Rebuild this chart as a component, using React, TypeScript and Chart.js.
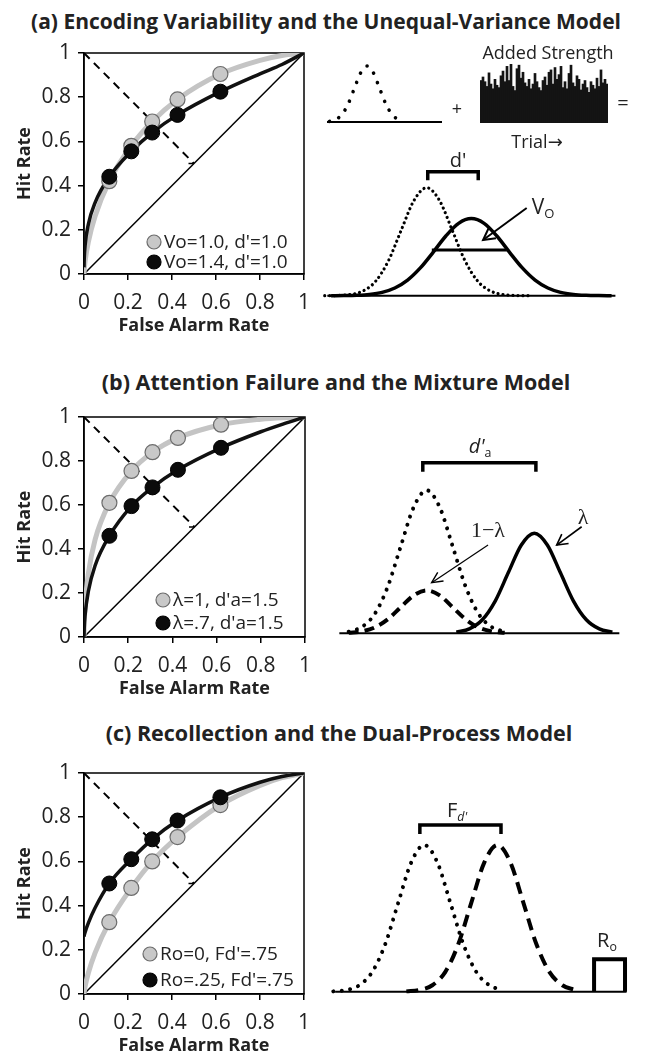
import React, { useEffect, useRef } from "react";
import { Chart, registerables } from "chart.js";

Chart.register(...registerables);

const SANS = "'Open Sans', 'DejaVu Sans', sans-serif";
const SERIF = "'Liberation Serif', 'DejaVu Serif', serif";

// ---------------- ROC panels (left column) ----------------
const rocTickStep = 0.2;
const rocCurveFA = [0, 0.001, 0.005, 0.02, 0.05, 0.115, 0.215, 0.31, 0.425, 0.62, 0.8, 0.9, 1];
const rocPointFA = [0.115, 0.215, 0.31, 0.425, 0.62];
const chanceLine = [0, 1];
const minorDiagFA = [0, 0.5];
const minorDiagHit = [1, 0.5];
const minorEndFA = [0.475, 0.5];
const minorEndHit = [0.5, 0.5];

// (a) unequal variance
const aGreyCurve = [0, 0.018, 0.058, 0.146, 0.26, 0.42, 0.58, 0.69, 0.79, 0.905, 0.967, 0.989, 1];
const aBlackCurve = [0.03, 0.068, 0.13, 0.226, 0.322, 0.44, 0.555, 0.64, 0.72, 0.825, 0.906, 0.948, 1];
const aGreyPts = [0.42, 0.58, 0.69, 0.79, 0.905];
const aBlackPts = [0.44, 0.555, 0.64, 0.72, 0.825];
const aLabels = ["Vo=1.0, d'=1.0", "Vo=1.4, d'=1.0"];

// (b) mixture
const bGreyCurve = [0, 0.056, 0.141, 0.29, 0.442, 0.61, 0.755, 0.84, 0.905, 0.965, 0.99, 0.997, 1];
const bBlackCurve = [0, 0.04, 0.1, 0.209, 0.324, 0.46, 0.595, 0.68, 0.76, 0.86, 0.933, 0.968, 1];
const bGreyPts = [0.61, 0.755, 0.84, 0.905, 0.965];
const bBlackPts = [0.46, 0.595, 0.68, 0.76, 0.86];
const bLabels = ["λ=1, d'a=1.5", "λ=.7, d'a=1.5"];

// (c) dual process
const cGreyCurve = [0, 0.0096, 0.034, 0.096, 0.185, 0.325, 0.48, 0.6, 0.71, 0.855, 0.944, 0.979, 1];
const cBlackCurve = [0.26, 0.265, 0.28, 0.322, 0.389, 0.5, 0.61, 0.7, 0.785, 0.89, 0.958, 0.984, 1];
const cGreyPts = [0.325, 0.48, 0.6, 0.71, 0.855];
const cBlackPts = [0.5, 0.61, 0.7, 0.785, 0.89];
const cLabels = ["Ro=0, Fd'=.75", "Ro=.25, Fd'=.75"];

// ---------------- Diagram (a) ----------------
const smallNoiseX = [-3, -2.5, -2, -1.5, -1, -0.5, 0, 0.5, 1, 1.5, 2, 2.5, 3];
const smallNoiseY = [0.011, 0.044, 0.135, 0.325, 0.607, 0.882, 1, 0.882, 0.607, 0.325, 0.135, 0.044, 0.011];
const smallBaseX = [-3.2, 6.0];
const zeroPair = [0, 0];

const addedStrength = [
  0.72, 0.78, 0.7, 0.62, 0.85, 0.66, 0.58, 0.74, 0.64, 0.6, 0.8, 0.88, 0.7, 0.96, 0.72, 1.0,
  0.62, 0.55, 0.92, 0.98, 0.76, 0.86, 0.68, 0.62, 0.74, 0.58, 0.66, 0.84, 0.7, 0.6, 0.55, 0.72,
  0.78, 0.64, 0.86, 0.9, 0.66, 0.94, 0.74, 0.82, 0.96, 0.6, 0.7, 0.58, 0.84, 0.98, 0.68, 0.62,
  0.8, 0.74, 0.56, 0.66, 0.72, 0.6, 0.52, 0.7, 0.64, 0.58, 0.76, 0.62, 0.9, 0.68, 0.74, 0.66,
];
const trialIndex = addedStrength.map((_, i) => i + 1);

const newDistX = [-4, -3.5, -3, -2.5, -2, -1.5, -1, -0.5, 0, 0.5, 1, 1.5, 2, 2.5, 3, 3.5, 4];
const newDistY = [0.0003, 0.0022, 0.011, 0.044, 0.135, 0.325, 0.607, 0.882, 1, 0.882, 0.607, 0.325, 0.135, 0.044, 0.011, 0.0022, 0.0003];
const oldDistX = [-3.75, -3.25, -2.75, -2.25, -1.75, -1.25, -0.75, -0.25, 0.25, 0.75, 1.25, 1.75, 2.25, 2.75, 3.25, 3.75, 4.25, 4.75, 5.25, 5.75, 6.25, 6.75, 7.25];
const oldDistY = [0.0003, 0.0012, 0.0041, 0.0121, 0.0314, 0.0719, 0.145, 0.2575, 0.402, 0.553, 0.67, 0.714, 0.67, 0.553, 0.402, 0.2575, 0.145, 0.0719, 0.0314, 0.0121, 0.0041, 0.0012, 0.0003];
const baseAX = [-3.9, 7.4];
const bracketAX = [0.04, 0.04, 2.02, 2.02];
const bracketAY = [1.07, 1.148, 1.148, 1.07];
const voLineX = [0.2, 3.14];
const voLineY = [0.423, 0.423];
const voArrowX = [3.92, 2.21];
const voArrowY = [0.812, 0.516];

// ---------------- Diagram (b) ----------------
const noiseBX = [-3, -2.5, -2, -1.5, -1, -0.5, 0, 0.5, 1, 1.5, 2, 2.5, 3];
const noiseBY = [0.011, 0.044, 0.135, 0.325, 0.607, 0.882, 1, 0.882, 0.607, 0.325, 0.135, 0.044, 0.011];
const unattendedBY = [0.0033, 0.0132, 0.0406, 0.0974, 0.182, 0.265, 0.3, 0.265, 0.182, 0.0974, 0.0406, 0.0132, 0.0033];
const attendedBX = [1.14, 1.64, 2.14, 2.64, 3.14, 3.64, 4.14, 4.64, 5.14, 5.64, 6.14, 6.64, 7.14];
const attendedBY = [0.0078, 0.0307, 0.0947, 0.2273, 0.4246, 0.6178, 0.7, 0.6178, 0.4246, 0.2273, 0.0947, 0.0307, 0.0078];
const baseBX = [-3.36, 7.41];
const bracketBX = [-0.15, -0.15, 4.2, 4.2];
const bracketBY = [1.13, 1.193, 1.193, 1.13];
const lapseArrowX = [2.36, 0.19];
const lapseArrowY = [0.617, 0.354];
const lambdaArrowX = [5.96, 5.0];
const lambdaArrowY = [0.745, 0.617];

// ---------------- Diagram (c) ----------------
const noiseCX = [-3.5, -3, -2.5, -2, -1.5, -1, -0.5, 0, 0.5, 1, 1.5, 2, 2.5, 3];
const noiseCY = [0.0022, 0.011, 0.044, 0.135, 0.325, 0.607, 0.882, 1, 0.882, 0.607, 0.325, 0.135, 0.044, 0.011];
const familiarCX = [-0.69, -0.19, 0.31, 0.81, 1.31, 1.81, 2.31, 2.81, 3.31, 3.81, 4.31, 4.81, 5.31, 5.81];
const familiarCY = [0.0022, 0.011, 0.044, 0.135, 0.325, 0.607, 0.882, 1, 0.882, 0.607, 0.325, 0.135, 0.044, 0.011];
const baseCX = [-3.43, 7.78];
const recolBoxX = [6.53, 6.53, 7.72, 7.72];
const recolBoxY = [0, 0.221, 0.221, 0];
const bracketCX = [-0.17, -0.17, 2.95, 2.95];
const bracketCY = [1.075, 1.136, 1.136, 1.075];

// ---------------- helpers ----------------
const pts = (xs: number[], ys: number[]) => xs.map((x, i) => ({ x, y: ys[i] }));

const curve = (xs: number[], ys: number[], w: number, extra: any = {}) => ({
  data: pts(xs, ys),
  showLine: true,
  pointRadius: 0,
  borderColor: "#000",
  borderWidth: w,
  cubicInterpolationMode: "monotone",
  clip: false,
  ...extra,
});
const straight = (xs: number[], ys: number[], w: number, extra: any = {}) => ({
  data: pts(xs, ys),
  showLine: true,
  pointRadius: 0,
  borderColor: "#000",
  borderWidth: w,
  tension: 0,
  borderJoinStyle: "miter",
  clip: false,
  ...extra,
});
const dotted = (gap: number) => ({ borderDash: [0.01, gap], borderCapStyle: "round" });

const boxPlugin = {
  id: "plotBox",
  beforeDatasetsDraw(chart: any) {
    const { ctx, chartArea: a } = chart;
    ctx.save();
    ctx.strokeStyle = "#000";
    ctx.lineWidth = 1.5;
    ctx.strokeRect(a.left, a.top, a.right - a.left, a.bottom - a.top);
    ctx.restore();
  },
};

const rocLegendPlugin = {
  id: "rocLegend",
  afterDatasetsDraw(chart: any, _args: any, opts: any) {
    const { ctx, chartArea: a } = chart;
    const ds = chart.data.datasets;
    const items = [
      { label: ds[1].label, fill: ds[1].pointBackgroundColor, stroke: ds[1].pointBorderColor },
      { label: ds[0].label, fill: ds[0].pointBackgroundColor, stroke: ds[0].pointBorderColor },
    ];
    ctx.save();
    ctx.font = `19px ${SANS}`;
    ctx.textBaseline = "middle";
    ctx.textAlign = "left";
    items.forEach((it, i) => {
      const cx = a.left + opts.x;
      const cy = a.bottom + opts.rows[i];
      ctx.beginPath();
      ctx.arc(cx, cy, 7, 0, Math.PI * 2);
      ctx.fillStyle = it.fill;
      ctx.fill();
      ctx.lineWidth = 1.2;
      ctx.strokeStyle = it.stroke;
      ctx.stroke();
      ctx.fillStyle = "#222";
      ctx.fillText(it.label, cx + 10, cy + 1);
    });
    ctx.restore();
  },
};

const arrowPlugin = {
  id: "arrowHeads",
  afterDatasetsDraw(chart: any) {
    const ctx = chart.ctx;
    chart.data.datasets.forEach((ds: any, i: number) => {
      if (!ds.arrowHead) return;
      const meta = chart.getDatasetMeta(i);
      const n = meta.data.length;
      const a = meta.data[n - 2];
      const b = meta.data[n - 1];
      const ang = Math.atan2(b.y - a.y, b.x - a.x);
      const L = ds.arrowHead.size;
      const sp = ds.arrowHead.spread;
      ctx.save();
      ctx.strokeStyle = ds.borderColor;
      ctx.lineWidth = ds.arrowHead.width;
      ctx.lineJoin = "miter";
      ctx.beginPath();
      ctx.moveTo(b.x - L * Math.cos(ang - sp), b.y - L * Math.sin(ang - sp));
      ctx.lineTo(b.x, b.y);
      ctx.lineTo(b.x - L * Math.cos(ang + sp), b.y - L * Math.sin(ang + sp));
      ctx.stroke();
      ctx.restore();
    });
  },
};

type RocSpec = {
  greyCurve: number[];
  blackCurve: number[];
  greyPts: number[];
  blackPts: number[];
  labels: string[];
  padTop: number;
  padRight: number;
  axisH: number;
  legend: { x: number; rows: number[] };
};

function rocConfig(s: RocSpec): any {
  const tickFmt = (v: any) => Number(v).toFixed(1).replace(/\.0$/, "");
  const axisCommon = {
    type: "linear",
    min: 0,
    max: 1,
    grid: { drawOnChartArea: false, drawTicks: true, tickLength: 6, color: "#000", lineWidth: 1.5 },
    border: { display: true, color: "#000", width: 1.5 },
  };
  return {
    type: "scatter",
    data: {
      datasets: [
        { label: s.labels[1], data: pts(rocPointFA, s.blackPts), showLine: false, pointRadius: 7.5, pointBackgroundColor: "#0b0b0b", pointBorderColor: "#000", pointBorderWidth: 1 },
        { label: s.labels[0], data: pts(rocPointFA, s.greyPts), showLine: false, pointRadius: 7.5, pointBackgroundColor: "#c8c8c8", pointBorderColor: "#6c6c6c", pointBorderWidth: 1.2 },
        { label: "black model curve", data: pts(rocCurveFA, s.blackCurve), showLine: true, pointRadius: 0, borderColor: "#111", borderWidth: 3.5, cubicInterpolationMode: "monotone" },
        { label: "grey model curve", data: pts(rocCurveFA, s.greyCurve), showLine: true, pointRadius: 0, borderColor: "#c4c4c4", borderWidth: 5, cubicInterpolationMode: "monotone" },
        { label: "chance", data: pts(chanceLine, chanceLine), showLine: true, pointRadius: 0, borderColor: "#000", borderWidth: 1.5 },
        { label: "minor diagonal", data: pts(minorDiagFA, minorDiagHit), showLine: true, pointRadius: 0, borderColor: "#000", borderWidth: 2, borderDash: [8, 6] },
        { label: "minor end", data: pts(minorEndFA, minorEndHit), showLine: true, pointRadius: 0, borderColor: "#000", borderWidth: 1.5 },
      ],
    },
    options: {
      responsive: false,
      animation: false,
      events: [],
      layout: { padding: { top: s.padTop, right: s.padRight, left: 0, bottom: 0 } },
      plugins: { legend: { display: false }, tooltip: { enabled: false }, rocLegend: s.legend },
      scales: {
        x: {
          ...axisCommon,
          ticks: { stepSize: rocTickStep, padding: 10, color: "#222", font: { family: SANS, size: 21 }, callback: tickFmt, maxRotation: 0 },
          title: { display: true, text: "False Alarm Rate", color: "#222", font: { family: SANS, size: 18, weight: "bold" }, padding: { top: 0, bottom: Math.max(0, s.axisH - 62.8) } },
          afterFit: (sc: any) => { sc.height = s.axisH; },
        },
        y: {
          ...axisCommon,
          ticks: { stepSize: rocTickStep, padding: 7, color: "#222", font: { family: SANS, size: 21 }, callback: tickFmt },
          title: { display: true, text: "Hit Rate", color: "#222", font: { family: SANS, size: 18, weight: "bold" }, padding: { top: 14.2, bottom: 0 } },
          afterFit: (sc: any) => { sc.width = 84; },
        },
      },
    },
    plugins: [boxPlugin, rocLegendPlugin],
  };
}

function diagramConfig(xr: number[], yr: number[], datasets: any[]): any {
  return {
    type: "scatter",
    data: { datasets },
    options: {
      responsive: false,
      animation: false,
      events: [],
      layout: { padding: 0 },
      plugins: { legend: { display: false }, tooltip: { enabled: false } },
      scales: {
        x: { type: "linear", display: false, min: xr[0], max: xr[1] },
        y: { type: "linear", display: false, min: yr[0], max: yr[1] },
      },
    },
    plugins: [arrowPlugin],
  };
}

function ChartBox({ left, top, width, height, make }: { left: number; top: number; width: number; height: number; make: () => any }) {
  const ref = useRef<HTMLCanvasElement>(null);
  useEffect(() => {
    const chart = new Chart(ref.current as HTMLCanvasElement, make());
    return () => chart.destroy();
  }, []);
  return (
    <canvas ref={ref} width={width} height={height} style={{ position: "absolute", left, top, width, height, display: "block" }} />
  );
}

function Label({ x, y, size = 18, font = SANS, weight = 400, italic = false, children }: any) {
  return (
    <div
      style={{
        position: "absolute",
        left: x,
        top: y,
        transform: "translate(-50%, -50%)",
        fontSize: size,
        fontFamily: font,
        fontWeight: weight,
        fontStyle: italic ? "italic" : "normal",
        lineHeight: 1,
        whiteSpace: "nowrap",
        color: "#222",
      }}
    >
      {children}
    </div>
  );
}

const sub = (t: string, italic = false) => (
  <span style={{ fontSize: "0.62em", verticalAlign: "-0.3em", fontStyle: italic ? "italic" : "normal" }}>{t}</span>
);

export default function App() {
  return (
    <div style={{ position: "absolute", left: 0, top: 0, width: 646, height: 1057, overflow: "hidden", background: "#fff" }}>
      {/* Titles */}
      <Label x={326} y={21} size={21} weight={700}>(a) Encoding Variability and the Unequal-Variance Model</Label>
      <Label x={336} y={382} size={21.5} weight={700}>(b) Attention Failure and the Mixture Model</Label>
      <Label x={339} y={733} size={21.5} weight={700}>(c) Recollection and the Dual-Process Model</Label>

      {/* ROC charts */}
      <ChartBox left={0} top={30} width={325} height={310} make={() => rocConfig({ greyCurve: aGreyCurve, blackCurve: aBlackCurve, greyPts: aGreyPts, blackPts: aBlackPts, labels: aLabels, padTop: 23, padRight: 21, axisH: 66, legend: { x: 70, rows: [-32, -12] } })} />
      <ChartBox left={0} top={395} width={325} height={308} make={() => rocConfig({ greyCurve: bGreyCurve, blackCurve: bBlackCurve, greyPts: bGreyPts, blackPts: bBlackPts, labels: bLabels, padTop: 22, padRight: 20, axisH: 66, legend: { x: 79, rows: [-37, -14] } })} />
      <ChartBox left={0} top={750} width={325} height={307} make={() => rocConfig({ greyCurve: cGreyCurve, blackCurve: cBlackCurve, greyPts: cGreyPts, blackPts: cBlackPts, labels: cLabels, padTop: 23, padRight: 21, axisH: 63, legend: { x: 66, rows: [-40, -14] } })} />

      {/* Diagram (a): top row */}
      <ChartBox left={310} top={50} width={150} height={85} make={() => diagramConfig([-4.56, 7.44], [-0.232, 1.286], [
        curve(smallNoiseX, smallNoiseY, 3.6, dotted(10)),
        straight(smallBaseX, zeroPair, 2),
      ])} />
      <Label x={457} y={108} size={18}>+</Label>
      <ChartBox left={480} top={64} width={128} height={59} make={() => ({
        type: "bar",
        data: { labels: trialIndex, datasets: [{ data: addedStrength, backgroundColor: "#141414", borderWidth: 0, barPercentage: 1, categoryPercentage: 1 }] },
        options: {
          responsive: false, animation: false, events: [], layout: { padding: 0 },
          plugins: { legend: { display: false }, tooltip: { enabled: false } },
          scales: { x: { display: false }, y: { display: false, min: 0, max: 1 } },
        },
      })} />
      <Label x={548} y={52} size={18}>Added Strength</Label>
      <Label x={537} y={141} size={18}>Trial→</Label>
      <Label x={623} y={103} size={20}>=</Label>

      {/* Diagram (a): distributions */}
      <ChartBox left={300} top={150} width={346} height={160} make={() => diagramConfig([-4.97, 8.6], [-0.132, 1.349], [
        straight(voArrowX, voArrowY, 2, { arrowHead: { size: 13, spread: 0.5, width: 2 } }),
        straight(voLineX, voLineY, 3),
        straight(bracketAX, bracketAY, 3.5),
        curve(oldDistX, oldDistY, 3.5),
        curve(newDistX, newDistY, 3.2, dotted(5)),
        straight(baseAX, zeroPair, 2),
      ])} />
      <Label x={458} y={160} size={20}>d'</Label>
      <Label x={543} y={208} size={21}>V{sub("O")}</Label>

      {/* Diagram (b) */}
      <ChartBox left={300} top={430} width={346} height={215} make={() => diagramConfig([-4.873, 8.435], [-0.0818, 1.4217], [
        straight(lapseArrowX, lapseArrowY, 1.2, { arrowHead: { size: 12, spread: 0.45, width: 1.4 } }),
        straight(lambdaArrowX, lambdaArrowY, 1.6, { arrowHead: { size: 12, spread: 0.5, width: 1.6 } }),
        straight(bracketBX, bracketBY, 3.5),
        curve(attendedBX, attendedBY, 3.5),
        curve(noiseBX, unattendedBY, 4, { borderDash: [10, 6] }),
        curve(noiseBX, noiseBY, 4, dotted(8.5)),
        straight(baseBX, zeroPair, 2),
      ])} />
      <Label x={480} y={448} size={20}><i>d'</i>{sub("a")}</Label>
      <Label x={488} y={530} size={22} font={SERIF}>1−λ</Label>
      <Label x={583} y={517} size={22} font={SERIF}>λ</Label>

      {/* Diagram (c) */}
      <ChartBox left={300} top={790} width={346} height={215} make={() => diagramConfig([-4.78, 8.527], [-0.0907, 1.375], [
        straight(bracketCX, bracketCY, 3.5),
        straight(recolBoxX, recolBoxY, 4),
        curve(familiarCX, familiarCY, 4, { borderDash: [12, 7] }),
        curve(noiseCX, noiseCY, 4, dotted(8.5)),
        straight(baseCX, zeroPair, 2),
      ])} />
      <Label x={457} y={812} size={20}>F{sub("d'", true)}</Label>
      <Label x={607} y={942} size={20}>R{sub("o")}</Label>
    </div>
  );
}
